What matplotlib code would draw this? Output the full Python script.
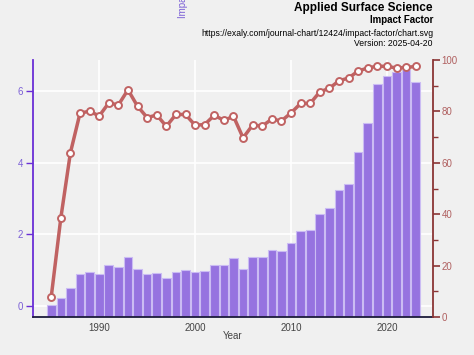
import numpy as np
import matplotlib
matplotlib.use('Agg')
import matplotlib.pyplot as plt
from matplotlib.ticker import MultipleLocator

plt.rcParams['font.family'] = ['Liberation Sans', 'DejaVu Sans']

# data
years = list(range(1985, 2024))
impact_factor = [0.02, 0.21, 0.51, 0.89, 0.94, 0.88, 1.14, 1.09, 1.38, 1.04,
                 0.89, 0.93, 0.79, 0.95, 1.01, 0.95, 0.98, 1.15, 1.15, 1.34,
                 1.04, 1.36, 1.38, 1.57, 1.54, 1.77, 2.09, 2.11, 2.56, 2.73,
                 3.23, 3.41, 4.32, 5.12, 6.21, 6.44, 6.55, 6.59, 6.26]
percentile = [7.8, 38.5, 63.9, 79.3, 80.1, 78.2, 83.3, 82.5, 88.4, 82.0,
              77.6, 78.6, 74.2, 78.8, 78.8, 74.6, 74.9, 78.5, 76.5, 78.1,
              69.7, 74.7, 74.3, 77.0, 76.3, 79.4, 83.1, 83.1, 87.6, 89.0,
              91.9, 93.0, 95.7, 96.9, 97.6, 97.5, 96.9, 97.1, 97.5]

bg = '#f0f0f0'
purple_bar = '#9673e0'
purple_axis = '#6a2fd6'
purple_text = '#7b5fd6'
red_line = '#c06262'
red_axis = '#8b3535'
red_text = '#b06060'

fig = plt.figure(figsize=(4.74, 3.55), dpi=100, facecolor=bg)
ax = fig.add_axes([33/474, 38/355, 400/474, 257/355])
ax.set_facecolor(bg)

ymin = -0.31
ax.bar(years, np.array(impact_factor) - ymin, bottom=ymin, width=0.9,
       color=purple_bar, edgecolor='#cbbcf3', linewidth=0.8, zorder=2)
ax.set_xlim(1983.1, 2024.8)
ax.set_ylim(ymin, 6.88)
ax.set_yticks([0, 2, 4, 6])
ax.xaxis.set_major_locator(MultipleLocator(10))
ax.xaxis.set_minor_locator(MultipleLocator(5))
ax.grid(True, which='major', color='white', linewidth=1.2, zorder=0)
ax.set_axisbelow(True)

for s in ['top', 'right']:
    ax.spines[s].set_visible(False)
ax.spines['left'].set_color(purple_axis)
ax.spines['left'].set_linewidth(1.3)
ax.spines['bottom'].set_color('#1c1c3a')
ax.spines['bottom'].set_linewidth(1.3)

ax.tick_params(axis='y', colors=purple_axis, labelcolor=purple_text,
               length=5, width=1, labelsize=7, pad=2)
ax.tick_params(axis='x', which='major', direction='in', length=5, width=1.5,
               color='#2a1a6e', labelcolor='#444444', labelsize=7, pad=4)
ax.tick_params(axis='x', which='minor', direction='in', length=3, width=1.2,
               color='#2a1a6e')
ax.set_xlabel('Year', fontsize=7, color='#444444', labelpad=-1)
ax.xaxis.set_label_coords(0.5, -0.055)

ax2 = ax.twinx()
ax2.plot(years, percentile, color=red_line, linewidth=2.5, marker='o',
         markersize=5, markerfacecolor='white', markeredgecolor=red_line,
         markeredgewidth=1.4, zorder=3)
ax2.set_ylim(0, 100)
ax2.yaxis.set_major_locator(MultipleLocator(20))
ax2.yaxis.set_minor_locator(MultipleLocator(10))
for s in ['top', 'left', 'bottom']:
    ax2.spines[s].set_visible(False)
ax2.spines['right'].set_color(red_axis)
ax2.spines['right'].set_linewidth(1.3)
ax2.tick_params(axis='y', which='major', colors=red_axis, labelcolor=red_text,
                length=5, width=1.2, labelsize=7, pad=1)
ax2.tick_params(axis='y', which='minor', colors=red_axis, length=3.5, width=1)

# header texts
fig.text(433/474, 1 - 8/355, 'Applied Surface Science', ha='right', va='center',
         fontsize=8.5, fontweight='bold', color='black')
fig.text(433/474, 1 - 20/355, 'Impact Factor', ha='right', va='center',
         fontsize=7, fontweight='bold', color='black')
fig.text(433/474, 1 - 33/355, 'https://exaly.com/journal-chart/12424/impact-factor/chart.svg',
         ha='right', va='center', fontsize=6.2, color='black')
fig.text(433/474, 1 - 44/355, 'Version: 2025-04-20', ha='right', va='center',
         fontsize=6.2, color='black')
# y label pushed mostly out of the top of the figure, as in the original
fig.text(183/474, 1 - 18/355, 'Impact Factor', rotation=90, ha='center',
         va='bottom', fontsize=7, color=purple_text)

fig.savefig('out.png', dpi=100, facecolor=bg)
